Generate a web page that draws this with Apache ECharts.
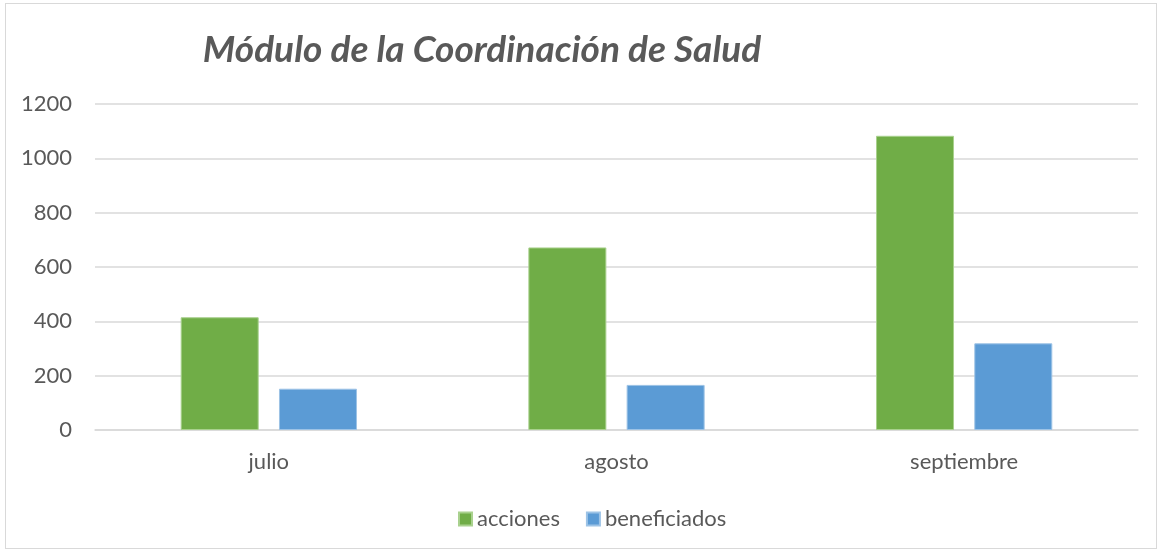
<!DOCTYPE html>
<html>
<head>
<meta charset="utf-8">
<script src="https://cdn.jsdelivr.net/npm/echarts@6/dist/echarts.min.js"></script>
<style>
  html, body { margin: 0; padding: 0; background: #fff; }
  #frame { position: absolute; left: 5px; top: 3px; width: 1152px; height: 546px; border: 1px solid #d9d9d9; box-sizing: border-box; }
  #chart { position: absolute; left: 0; top: 0; width: 1160px; height: 550px; }
</style>
</head>
<body>
<div id="frame"></div>
<div id="chart"></div>
<script>
const FONT = "Lato, 'Open Sans', sans-serif";
const TEXT_COLOR = "#595959";

const categories = ["julio", "agosto", "septiembre"];
const acciones = [415, 672, 1083];
const beneficiados = [152, 166, 319];
const seriesNames = ["acciones", "beneficiados"];

const chart = echarts.init(document.getElementById("chart"), null, { renderer: "canvas" });

chart.setOption({
  animation: false,
  title: {
    text: "Módulo de la Coordinación de Salud",
    left: 477,
    top: 27,
    textAlign: "center",
    textStyle: { color: TEXT_COLOR, fontFamily: FONT, fontSize: 37, fontStyle: "italic", fontWeight: "bold" },
  },
  grid: { left: 95, right: 22, top: 104, bottom: 120 },
  legend: {
    data: seriesNames,
    top: 503,
    left: 453,
    itemWidth: 13,
    itemHeight: 13,
    itemGap: 26,
    icon: "rect",
    textStyle: { color: TEXT_COLOR, fontFamily: FONT, fontSize: 22 },
  },
  xAxis: {
    type: "category",
    data: categories,
    axisLine: { lineStyle: { color: "#d9d9d9", width: 1.5 } },
    axisTick: { show: false },
    axisLabel: { color: TEXT_COLOR, fontFamily: FONT, fontSize: 22, margin: 21 },
  },
  yAxis: {
    type: "value",
    min: 0,
    max: 1200,
    interval: 200,
    axisLine: { show: false },
    axisTick: { show: false },
    splitLine: { lineStyle: { color: "#d9d9d9", width: 1.5 } },
    axisLabel: { color: TEXT_COLOR, fontFamily: FONT, fontSize: 22, margin: 23, formatter: (v) => String(v) },
  },
  series: [
    {
      name: seriesNames[0],
      type: "bar",
      data: acciones,
      barWidth: 78,
      barGap: "26%",
      itemStyle: { color: "#70ad47", borderColor: "#a9d18e", borderWidth: 1 },
    },
    {
      name: seriesNames[1],
      type: "bar",
      data: beneficiados,
      barWidth: 78,
      barGap: "26%",
      itemStyle: { color: "#5b9bd5", borderColor: "#9dc3e6", borderWidth: 1 },
    },
  ],
});
</script>
</body>
</html>
